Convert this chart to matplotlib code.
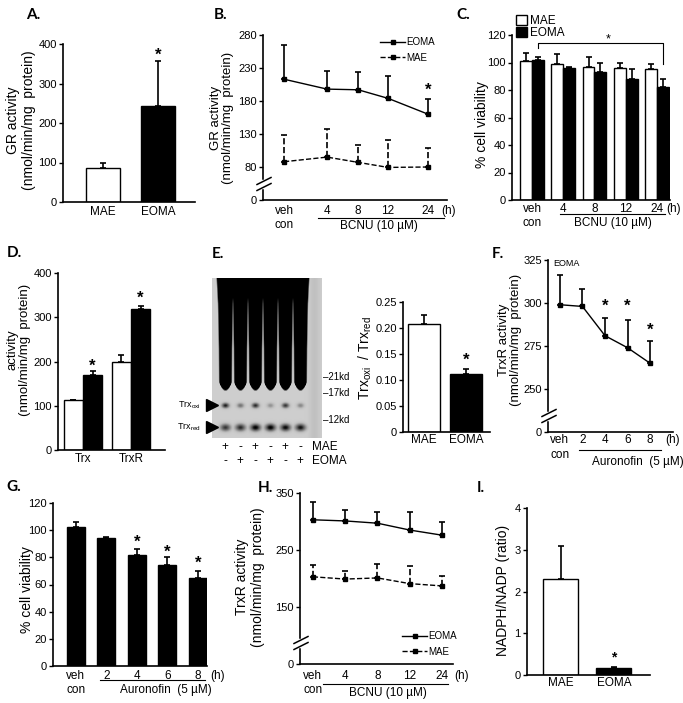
import numpy as np
import matplotlib
matplotlib.use('Agg')
import matplotlib.pyplot as plt
from matplotlib.lines import Line2D
from matplotlib.patches import Patch

plt.rcParams['font.family'] = ['Liberation Sans', 'DejaVu Sans']
plt.rcParams['font.size'] = 8.5
plt.rcParams['axes.linewidth'] = 1.2
plt.rcParams['mathtext.fontset'] = 'custom'
plt.rcParams['mathtext.rm'] = 'Liberation Sans'
plt.rcParams['mathtext.it'] = 'Liberation Sans'

W, H = 683, 703

# A - GR activity
a_groups = ['MAE', 'EOMA']
a_vals = [85, 242]
a_err = [15, 115]

# B - GR activity after BCNU
b_times = ['veh', '4', '8', '12', '24']
b_eoma = [213, 198, 197, 184, 160]
b_eoma_err = [52, 27, 27, 34, 23]
b_mae = [88, 95, 87, 79, 80]
b_mae_err = [40, 42, 27, 42, 29]

# C - viability after BCNU
c_times = ['veh', '4', '8', '12', '24']
c_mae = [101, 99, 97, 96, 95]
c_mae_err = [6, 7, 7, 4, 4]
c_eoma = [102, 96, 93, 88, 82]
c_eoma_err = [2, 1, 7, 7, 6]

# D - Trx / TrxR activity
d_groups = ['Trx', 'TrxR']
d_mae = [112, 200]
d_mae_err = [2, 14]
d_eoma = [170, 318]
d_eoma_err = [8, 8]

# E - redox western blot + ratio
e_mae_row = ['+', '-', '+', '-', '+', '-']
e_eoma_row = ['-', '+', '-', '+', '-', '+']
e_oxi_band = [0.85, 0.45, 0.8, 0.3, 0.75, 0.35]
e_red_band = [0.75, 0.8, 1.0, 1.0, 0.95, 0.9]
e_groups = ['MAE', 'EOMA']
e_ratio = [0.207, 0.112]
e_ratio_err = [0.018, 0.010]

# F - TrxR activity after auranofin (EOMA)
f_times = ['veh', '2', '4', '6', '8']
f_eoma = [299, 298, 281, 274, 265]
f_eoma_err = [17, 10, 10, 16, 13]

# G - viability after auranofin
g_times = ['veh', '2', '4', '6', '8']
g_vals = [102, 94, 82, 74, 65]
g_err = [4, 1, 4, 6, 5]

# H - TrxR activity after BCNU
h_times = ['veh', '4', '8', '12', '24']
h_eoma = [303, 301, 297, 285, 276]
h_eoma_err = [32, 20, 19, 31, 24]
h_mae = [203, 199, 201, 191, 187]
h_mae_err = [20, 14, 24, 31, 18]

# I - NADPH/NADP
i_groups = ['MAE', 'EOMA']
i_vals = [2.3, 0.17]
i_err = [0.8, 0.02]

fig = plt.figure(figsize=(W / 100, H / 100), dpi=100)


def box(l, t, r, b):
    ax = fig.add_axes([l / W, 1 - b / H, (r - l) / W, (b - t) / H])
    ax.spines[['top', 'right']].set_visible(False)
    ax.tick_params(axis='y', length=3, width=1, pad=1.5, labelsize=8)
    ax.tick_params(axis='x', length=0, labelbottom=False)
    return ax


def T(x, y, s, **kw):
    kw.setdefault('ha', 'center')
    kw.setdefault('va', 'center')
    return fig.text(x / W, 1 - y / H, s, **kw)


def ylab(x, y, s, size=10):
    T(x, y, s, rotation=90, fontsize=size, multialignment='center', linespacing=1.1)


def fy(ax, ypx):
    p = ax.get_position()
    return ((1 - ypx / H) - p.y0) / p.height


def xtext(ax, x, ypx, s, **kw):
    kw.setdefault('ha', 'center')
    kw.setdefault('va', 'center')
    ax.text(x, fy(ax, ypx), s, transform=ax.get_xaxis_transform(), clip_on=False, **kw)


def underline(ax, x1, x2, ypx):
    ax.plot([x1, x2], [fy(ax, ypx)] * 2, color='k', lw=0.8,
            transform=ax.get_xaxis_transform(), clip_on=False)


def upper_err(ax, x, y, e, ls='-', lw=1.2):
    eb = ax.errorbar(x, y, yerr=[np.zeros(len(e)), e], fmt='none', ecolor='k',
                     elinewidth=lw, capsize=2.2, capthick=lw, zorder=1)
    eb[2][0].set_linestyle(ls)


def broken(lo_real, lo_disp):
    def fwd(y):
        y = np.asarray(y, float)
        return np.where(y < lo_real, y * lo_disp / lo_real, y - (lo_real - lo_disp))

    def inv(d):
        d = np.asarray(d, float)
        return np.where(d < lo_disp, d * lo_real / lo_disp, d + (lo_real - lo_disp))
    return fwd, inv


def brk(ax, ypx):
    x0 = ax.get_position().x0 * W
    tf = fig.transFigure
    fig.add_artist(Line2D([x0 / W] * 2, [1 - (ypx - 3) / H, 1 - (ypx + 3) / H],
                          color='white', lw=2.5, transform=tf))
    for off in (-3, 3):
        fig.add_artist(Line2D([(x0 - 6) / W, (x0 + 8) / W],
                              [1 - (ypx + off + 3.5) / H, 1 - (ypx + off - 3.5) / H],
                              color='k', lw=1.1, transform=tf))


def star(ax, x, y, size=12):
    ax.text(x, y, '*', ha='center', va='center', fontsize=size, fontweight='bold')


def letter(x, y, s):
    T(x, y, s, fontsize=11, fontweight='bold', family='Lato')


# ---------- A ----------
ax = box(63, 44, 195, 202)
xa = np.arange(2)
ax.bar(xa, a_vals, width=0.62, color=['white', 'black'], edgecolor='k', lw=1, zorder=2)
upper_err(ax, xa, a_vals, a_err)
ax.set_xlim(-0.727, 1.673)
ax.set_ylim(0, 400)
ax.set_yticks([0, 100, 200, 300, 400])
star(ax, 1, 372)
for i, g in enumerate(a_groups):
    xtext(ax, i, 212, g)
ylab(21, 120, 'GR activity\n(nmol/min/mg  protein)')
letter(33, 15, 'A.')

# ---------- B ----------
ax = box(263, 35, 447, 200)
xb = np.array([0, 1.41, 2.43, 3.41, 4.72])
ax.set_yscale('function', functions=broken(80, 50))
ax.plot(xb, b_eoma, 'k-', marker='s', ms=3.5, lw=1, label='EOMA')
ax.plot(xb, b_mae, 'k--', marker='s', ms=3.5, lw=1, label='MAE')
upper_err(ax, xb, b_eoma, b_eoma_err)
upper_err(ax, xb, b_mae, b_mae_err, ls='--')
ax.set_xlim(-0.69, 5.34)
ax.set_ylim(0, 280)
ax.set_yticks([0, 80, 130, 180, 230, 280])
ax.yaxis.set_minor_locator(matplotlib.ticker.NullLocator())
star(ax, xb[4], 197)
for x, t in zip(xb, b_times):
    xtext(ax, x, 211, t)
xtext(ax, xb[0], 225, 'con')
xtext(ax, 5.4, 211, '(h)')
underline(ax, 1.1, 5.25, 218)
xtext(ax, 3.1, 226, 'BCNU (10 \u00b5M)')
ax.legend(loc='upper left', bbox_to_anchor=(380 / W, 1 - 37 / H), bbox_transform=fig.transFigure,
          frameon=False, fontsize=7, handlelength=2.6, handletextpad=0.1, labelspacing=0.6,
          borderpad=0, borderaxespad=0)
brk(ax, 184)
ylab(222, 118, 'GR activity\n(nmol/min/mg  protein)', size=9.5)
letter(221, 15, 'B.')

# ---------- C ----------
ax = box(512, 35, 670, 200)
xc = np.arange(5)
ax.bar(xc - 0.19, c_mae, width=0.38, color='white', edgecolor='k', lw=1, zorder=2)
ax.bar(xc + 0.19, c_eoma, width=0.38, color='black', edgecolor='k', lw=1, zorder=2)
upper_err(ax, xc - 0.19, c_mae, c_mae_err)
upper_err(ax, xc + 0.19, c_eoma, c_eoma_err)
ax.set_xlim(-0.64, 4.42)
ax.set_ylim(0, 120)
ax.set_yticks(range(0, 121, 20))
ax.plot([0.19, 0.19, 4.19, 4.19], [110.5, 114, 114, 99], color='k', lw=0.8, clip_on=False)
ax.text(2.45, 117, '*', ha='center', va='center', fontsize=9)
for x, t in zip(xc, c_times):
    xtext(ax, x, 209, t)
xtext(ax, 0, 223, 'con')
xtext(ax, 4.55, 209, '(h)')
underline(ax, 0.9, 4.25, 214)
xtext(ax, 2.6, 223, 'BCNU (10 \u00b5M)')
ax.legend(handles=[Patch(fc='white', ec='k'), Patch(fc='black', ec='k')], labels=['MAE', 'EOMA'],
          loc='upper left', bbox_to_anchor=(516 / W, 1 - 15 / H), bbox_transform=fig.transFigure,
          frameon=False, fontsize=8.5, handlelength=0.9, handleheight=0.9, handletextpad=0.3,
          labelspacing=0.0, borderpad=0, borderaxespad=0)
ylab(482, 125, '% cell viability')
letter(463, 15, 'C.')

# ---------- D ----------
ax = box(58, 273, 165, 450)
xd = np.arange(2)
ax.bar(xd - 0.2, d_mae, width=0.4, color='white', edgecolor='k', lw=1, zorder=2)
ax.bar(xd + 0.2, d_eoma, width=0.4, color='black', edgecolor='k', lw=1, zorder=2)
upper_err(ax, xd - 0.2, d_mae, d_mae_err)
upper_err(ax, xd + 0.2, d_eoma, d_eoma_err)
ax.set_xlim(-0.52, 1.71)
ax.set_ylim(0, 400)
ax.set_yticks([0, 100, 200, 300, 400])
star(ax, 0.2, 190)
star(ax, 1.2, 342)
for i, g in enumerate(d_groups):
    xtext(ax, i, 459, g)
ylab(19, 350, 'activity\n(nmol/min/mg  protein)', size=9.5)
letter(14, 253, 'D.')

# ---------- E (blot) ----------
ax = fig.add_axes([212 / W, 1 - 438 / H, 110 / W, 160 / H])
rows, cols = 160, 110
yy, xx = np.mgrid[0:rows, 0:cols]
bg = 0.3
img = np.full((rows, cols), bg)
lane_x = [13, 28, 43, 58, 73, 88]
for i, cx in enumerate(lane_x):
    hw = np.interp(yy, [0, 25, 70, 115], [9.5, 8.2, 7.3, 7])
    edge = np.clip((hw - np.abs(xx - cx)) / 1.5, 0, 1)
    end = np.clip((113 - yy - ((xx - cx) / hw) ** 2 * 10) / 2, 0, 1)
    img = np.maximum(img, bg + 0.7 * edge * end)
    oxi = e_oxi_band[i] * np.exp(-((xx - cx) / 3.5) ** 2 - ((yy - 127) / 2.5) ** 2)
    red = e_red_band[i] * np.exp(-((xx - cx) / 5) ** 2 - ((yy - 149) / 3.5) ** 2)
    img = np.maximum(img, bg + 0.7 * np.maximum(oxi, red))
img = np.maximum(img, bg + 0.06 * np.exp(-((xx - 102) / 5) ** 2))
ax.imshow(img, cmap='Greys', vmin=0, vmax=1, extent=(0, cols, rows, 0), aspect='auto',
          interpolation='bilinear')
ax.set_xlim(0, cols)
ax.set_ylim(rows, 0)
ax.axis('off')
for cx, m, e in zip(lane_x, e_mae_row, e_eoma_row):
    ax.text(cx, 169, m, ha='center', va='center', fontsize=8.5, clip_on=False)
    ax.text(cx, 183, e, ha='center', va='center', fontsize=8.5, clip_on=False)
ax.text(100, 169, 'MAE', ha='left', va='center', fontsize=8.5, clip_on=False)
ax.text(100, 183, 'EOMA', ha='left', va='center', fontsize=8.5, clip_on=False)
for yk, kd in zip([99, 115, 142], ['21kd', '17kd', '12kd']):
    ax.text(cols + 1, yk, '\u2013' + kd, ha='left', va='center', fontsize=7, clip_on=False)
for yk, lab in zip([127, 149], [r'Trx$_{\rm oxi}$', r'Trx$_{\rm red}$']):
    ax.plot([0], [yk], marker='>', ms=8, color='k', clip_on=False)
    ax.text(-11, yk, lab, ha='right', va='center', fontsize=6.5, clip_on=False)
letter(218, 254, 'E.')

# ---------- E (ratio) ----------
ax = box(403, 302, 490, 432)
xe = np.arange(2)
ax.bar(xe, e_ratio, width=0.76, color=['white', 'black'], edgecolor='k', lw=1, zorder=2)
upper_err(ax, xe, e_ratio, e_ratio_err)
ax.set_xlim(-0.5, 1.57)
ax.set_ylim(0, 0.25)
ax.set_yticks([0, 0.05, 0.10, 0.15, 0.20, 0.25])
ax.set_yticklabels(['0', '0.05', '0.10', '0.15', '0.20', '0.25'])
star(ax, 1, 0.138)
for i, g in enumerate(e_groups):
    xtext(ax, i, 440, g)
T(365, 358, r'Trx$_{\rm oxi}$  / Trx$_{\rm red}$', rotation=90, fontsize=10)

# ---------- F ----------
ax = box(548, 260, 673, 432)
xf = np.arange(5)
ax.set_yscale('function', functions=broken(250, 25))
ax.plot(xf, f_eoma, 'k-', marker='s', ms=2.5, lw=1)
upper_err(ax, xf, f_eoma, f_eoma_err)
ax.set_xlim(-0.53, 5.02)
ax.set_ylim(0, 325)
ax.set_yticks([0, 250, 275, 300, 325])
ax.yaxis.set_minor_locator(matplotlib.ticker.NullLocator())
for x, yv in zip(xf[2:], [298, 298, 284]):
    star(ax, x, yv)
ax.text(0.3, 323, 'EOMA', ha='center', va='center', fontsize=6.5)
for x, t in zip(xf, f_times):
    xtext(ax, x, 440, t)
xtext(ax, 0, 455, 'con')
xtext(ax, 5.0, 440, '(h)')
underline(ax, 0.85, 4.5, 450)
xtext(ax, 3.45, 462, 'Auronofin  (5 \u00b5M)')
brk(ax, 416)
ylab(510, 340, 'TrxR activity\n(nmol/min/mg  protein)', size=9.5)
letter(498, 254, 'F.')

# ---------- G ----------
ax = box(53, 503, 207, 666)
xg = np.arange(5)
ax.bar(xg, g_vals, width=0.59, color='black', edgecolor='k', lw=1, zorder=2)
upper_err(ax, xg, g_vals, g_err)
ax.set_xlim(-0.75, 4.3)
ax.set_ylim(0, 120)
ax.set_yticks(range(0, 121, 20))
for x, yv in zip(xg[2:], [91, 84, 76]):
    star(ax, x, yv)
for x, t in zip(xg, g_times):
    xtext(ax, x, 676, t)
xtext(ax, 0, 690, 'con')
xtext(ax, 4.63, 676, '(h)')
underline(ax, 0.8, 4.25, 680)
xtext(ax, 2.95, 690, 'Auronofin  (5 \u00b5M)')
ylab(27, 590, '% cell viability')
letter(14, 487, 'G.')

# ---------- H ----------
ax = box(300, 493, 453, 664)
xh = np.arange(5)
ax.set_yscale('function', functions=broken(150, 100))
ax.plot(xh, h_eoma, 'k-', marker='s', ms=3.5, lw=1, label='EOMA')
ax.plot(xh, h_mae, 'k--', marker='s', ms=3.5, lw=1, label='MAE')
upper_err(ax, xh, h_eoma, h_eoma_err)
upper_err(ax, xh, h_mae, h_mae_err, ls='--')
ax.set_xlim(-0.4, 4.34)
ax.set_ylim(0, 350)
ax.set_yticks([0, 150, 250, 350])
ax.yaxis.set_minor_locator(matplotlib.ticker.NullLocator())
for x, t in zip(xh, h_times):
    xtext(ax, x, 676, t)
xtext(ax, 0, 690, 'con')
xtext(ax, 4.6, 676, '(h)')
underline(ax, 0.3, 4.2, 684)
xtext(ax, 2.33, 693, 'BCNU (10 \u00b5M)')
ax.legend(loc='upper left', bbox_to_anchor=(402 / W, 1 - 631 / H), bbox_transform=fig.transFigure,
          frameon=False, fontsize=7, handlelength=2.6, handletextpad=0.1, labelspacing=0.6,
          borderpad=0, borderaxespad=0)
brk(ax, 643)
ylab(250, 577, 'TrxR activity\n(nmol/min/mg  protein)')
letter(265, 488, 'H.')

# ---------- I ----------
ax = box(527, 508, 650, 675)
xi = np.arange(2)
ax.bar(xi, i_vals, width=0.66, color=['white', 'black'], edgecolor='k', lw=1, zorder=2)
upper_err(ax, xi, i_vals, i_err)
ax.set_xlim(-0.64, 1.68)
ax.set_ylim(0, 4)
ax.set_yticks([0, 1, 2, 3, 4])
star(ax, 1, 0.43, size=10)
for i, g in enumerate(i_groups):
    xtext(ax, i, 683, g)
ylab(503, 590, 'NADPH/NADP (ratio)')
letter(481, 488, 'I.')

fig.savefig('out.png', dpi=100)
